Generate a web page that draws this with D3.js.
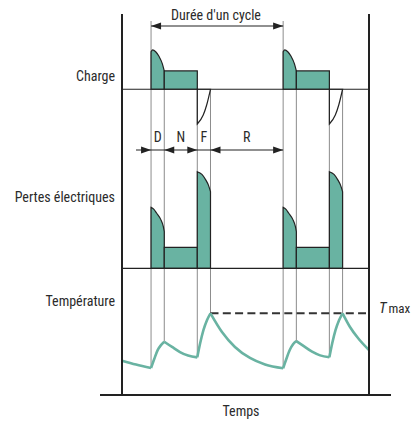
<!DOCTYPE html>
<html><head><meta charset="utf-8">
<script src="https://cdn.jsdelivr.net/npm/d3@7"></script>
<style>
body{margin:0;background:#fff}
svg{display:block}
text{font-family:"Liberation Sans Narrow","Arial Narrow","Roboto Condensed",sans-serif;fill:#2b2b2b}
</style>
</head><body>
<svg id="c" width="414" height="421"></svg>
<script>
// ---- data ----
const rowLabels = ["Charge", "Pertes électriques", "Température"];
const phaseNames = ["D", "N", "F", "R"];
const phaseBounds = [0, 10, 35, 45, 100];      // phase boundaries within one cycle
const cycleStarts = [0, 100];
const timeDomain = [-22, 165];
const cycleTitle = "Durée d'un cycle";
const axisTitle = "Temps";
// charge (relative load)
const chargeD = [[0, 2.05], [1.2, 2.15], [3.5, 2.05], [6, 1.8], [8.5, 1.4], [10, 1.0]];
const chargeN = [[10, 1], [35, 1]];
const chargeF = [[35, -1.9], [39.5, -1.41], [42.1, -0.86], [45, 0]];
// electrical losses (relative)
const lossD = [[0, 2.9], [2, 2.82], [4.3, 2.62], [7.3, 2.33], [9.3, 1.98], [10, 1.75]];
const lossN = [[10, 1], [35, 1]];
const lossF = [[35, 4.6], [38.5, 4.47], [41.5, 4.2], [43.5, 3.95], [45, 3.65]];
// temperature (% of Tmax)
const tMax = 100;
const tempSegments = [
  [[-22, 42], [-11.4, 37.3], [0, 33]],
  [[0, 33], [2.4, 44], [5, 55], [7.5, 61], [10, 65.2]],
  [[10, 65.2], [15.9, 58.8], [21.9, 52.6], [28, 48.3], [35, 46.1]],
  [[35, 46.1], [37.2, 63.6], [39.7, 79.6], [42.4, 91.8], [45, 100]],
  [[45, 100], [53.7, 77.1], [63.5, 58.8], [74.9, 45.3], [86.3, 37.3], [100, 32.7]],
  [[100, 32.7], [102.4, 44], [105, 55], [107.5, 62], [110, 66]],
  [[110, 66], [115.9, 59.5], [121.9, 53], [128, 48.5], [135, 46.1]],
  [[135, 46.1], [137.2, 63.6], [139.7, 79.6], [142.4, 91.8], [145, 100]],
  [[145, 100], [150.5, 83.6], [156.8, 69.4], [165, 55]]
];

// ---- layout ----
const svg = d3.select("#c");
const pLeft = 122, pRight = 369, pTop = 14, pBottom = 395;
const teal = "#69b3a2", dark = "#222", grey = "#8c8c8c";

const x = d3.scaleLinear().domain(timeDomain).range([pLeft, pRight]);
const yC = d3.scaleLinear().domain([-1.9, 2.2]).range([124, 49]);
const yL = d3.scaleLinear().domain([0, 4.6]).range([268.3, 171.7]);
const yT = d3.scaleLinear().domain([0, 100]).range([395, 313.3]);

function tempAt(t) {
  for (const s of tempSegments) for (const p of s) if (Math.abs(p[0] - t) < 1e-9) return p[1];
  return 0;
}

// guide lines
const gG = svg.append("g").attr("stroke", grey).attr("stroke-width", 1);
cycleStarts.forEach(c => {
  phaseBounds.slice(0, 4).forEach((b, i) => {
    const y0 = i === 0 ? 21 : (i === 3 ? yC(0) : yC(1));
    gG.append("line").attr("x1", x(c + b)).attr("x2", x(c + b))
      .attr("y1", y0).attr("y2", yT(tempAt(c + b)));
  });
});

// charge & loss shapes
const areaC = d3.area().x(d => x(d[0])).y0(yC(0)).y1(d => yC(d[1])).curve(d3.curveMonotoneX);
const areaL = d3.area().x(d => x(d[0])).y0(yL(0)).y1(d => yL(d[1])).curve(d3.curveMonotoneX);
cycleStarts.forEach(c => {
  const sh = arr => arr.map(p => [p[0] + c, p[1]]);
  [chargeD, chargeN].forEach(a => svg.append("path").attr("d", areaC(sh(a)))
    .attr("fill", teal).attr("stroke", dark).attr("stroke-width", 1.2));
  svg.append("path").attr("d", areaC(sh(chargeF)))
    .attr("fill", "none").attr("stroke", dark).attr("stroke-width", 1.2);
  [lossD, lossN, lossF].forEach(a => svg.append("path").attr("d", areaL(sh(a)))
    .attr("fill", teal).attr("stroke", dark).attr("stroke-width", 1.2));
});

// panel separators
[yC(0), yL(0)].forEach(y => svg.append("line").attr("x1", pLeft).attr("x2", pRight)
  .attr("y1", y).attr("y2", y).attr("stroke", dark).attr("stroke-width", 1.2));

// Tmax dashed
svg.append("line").attr("x1", x(45)).attr("x2", pRight - 3).attr("y1", yT(tMax)).attr("y2", yT(tMax))
  .attr("stroke", "#333").attr("stroke-width", 2).attr("stroke-dasharray", "8,4.3");

// temperature curve
const lineT = d3.line().x(d => x(d[0])).y(d => yT(d[1])).curve(d3.curveMonotoneX);
tempSegments.forEach(s => svg.append("path").attr("d", lineT(s))
  .attr("fill", "none").attr("stroke", teal).attr("stroke-width", 2.6).attr("stroke-linejoin", "round"));

// frame
svg.append("line").attr("x1", pLeft).attr("x2", pLeft).attr("y1", pTop).attr("y2", pBottom).attr("stroke", dark).attr("stroke-width", 2);
svg.append("line").attr("x1", pRight).attr("x2", pRight).attr("y1", pTop).attr("y2", pBottom).attr("stroke", dark).attr("stroke-width", 2);
svg.append("line").attr("x1", 100).attr("x2", 391).attr("y1", pBottom).attr("y2", pBottom).attr("stroke", dark).attr("stroke-width", 2);

// arrows
function head(xp, y, dir) {
  svg.append("path").attr("d", `M${xp},${y}L${xp - dir * 10},${y - 3.5}L${xp - dir * 10},${y + 3.5}Z`).attr("fill", dark);
}
const yArrow = 26;
svg.append("line").attr("x1", x(0)).attr("x2", x(100)).attr("y1", yArrow).attr("y2", yArrow).attr("stroke", dark).attr("stroke-width", 1.2);
head(x(0), yArrow, -1); head(x(100), yArrow, 1);
svg.append("text").attr("x", 216).attr("y", 15).attr("dy", "0.35em")
  .attr("text-anchor", "middle").attr("font-size", 14).text(cycleTitle);

const yPh = 150;
svg.append("line").attr("x1", x(-11.4)).attr("x2", x(100)).attr("y1", yPh).attr("y2", yPh).attr("stroke", dark).attr("stroke-width", 1.2);
head(x(0), yPh, 1); head(x(10), yPh, -1); head(x(35), yPh, 1); head(x(45), yPh, -1); head(x(100), yPh, 1);
phaseNames.forEach((n, i) => {
  svg.append("text").attr("x", (x(phaseBounds[i]) + x(phaseBounds[i + 1])) / 2).attr("y", 137).attr("dy", "0.35em")
    .attr("text-anchor", "middle").attr("font-size", 14).text(n);
});

// row labels
const rowY = [76, 197, 301];
rowLabels.forEach((l, i) => svg.append("text").attr("x", 115).attr("y", rowY[i]).attr("dy", "0.35em")
  .attr("text-anchor", "end").attr("font-size", 14).text(l));

// Tmax label
const tl = svg.append("text").attr("x", 379).attr("y", 313).attr("font-size", 15);
tl.append("tspan").attr("font-style", "italic").text("T");
tl.append("tspan").attr("dx", 2).attr("font-size", 13).text("max");

svg.append("text").attr("x", 241).attr("y", 411).attr("dy", "0.35em").attr("text-anchor", "middle")
  .attr("font-size", 14).text(axisTitle);
</script>
</body></html>
